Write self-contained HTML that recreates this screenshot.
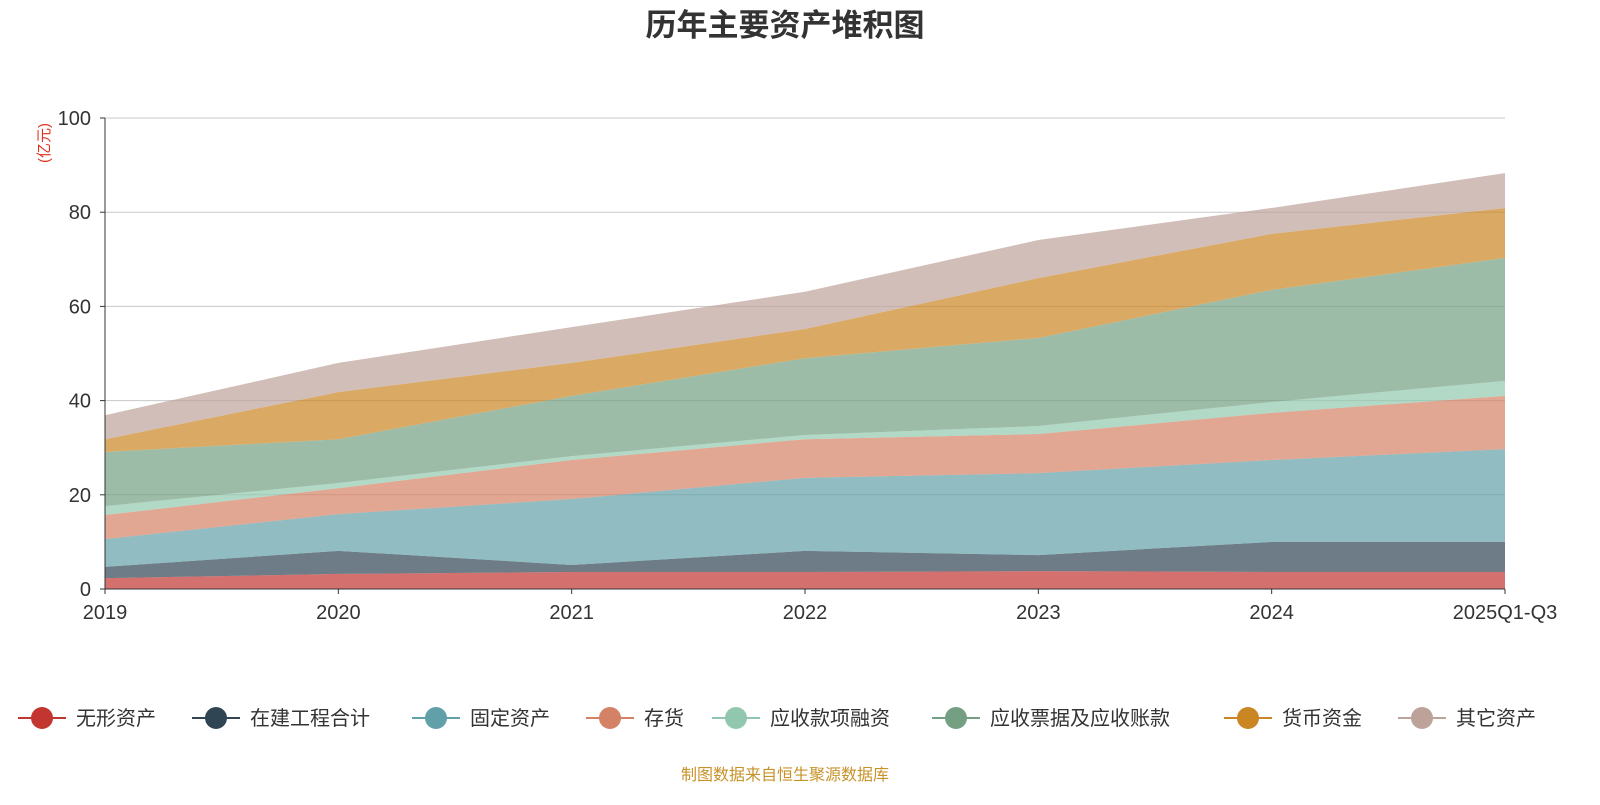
<!DOCTYPE html>
<html><head><meta charset="utf-8">
<style>
body{margin:0;background:#fff;width:1600px;height:800px;overflow:hidden;font-family:"Liberation Sans","Noto Sans CJK SC",sans-serif;}
svg text{font-family:"Liberation Sans","Noto Sans CJK SC",sans-serif;}
</style></head>
<body>
<svg id="chart" width="1600" height="800">
<text x="785" y="36" text-anchor="middle" font-size="31" font-weight="bold" fill="#333">历年主要资产堆积图</text>
<text transform="translate(49,143) rotate(-90)" text-anchor="middle" font-size="15" fill="#e0301e">(亿元)</text>
<g id="grid"></g><g id="areas"></g><g id="axes"></g><g id="legend"></g>
<text x="785" y="780" text-anchor="middle" font-size="16" fill="#c8922a">制图数据来自恒生聚源数据库</text>
</svg>
<script>
const categories=["2019","2020","2021","2022","2023","2024","2025Q1-Q3"];
const seriesNames=["无形资产","在建工程合计","固定资产","存货","应收款项融资","应收票据及应收账款","货币资金","其它资产"];
const intangible=[2.3,3.2,3.6,3.6,3.8,3.6,3.6];
const construction=[2.4,4.9,1.5,4.5,3.4,6.4,6.4];
const fixedAssets=[5.9,7.8,14.0,15.5,17.4,17.4,19.7];
const inventory=[5.1,5.5,8.3,8.2,8.3,10.0,11.3];
const receivableFinancing=[1.9,1.1,0.8,0.9,1.7,2.3,3.2];
const receivables=[11.5,9.3,12.8,16.3,18.7,23.8,26.1];
const cash=[2.7,10.0,7.0,6.2,12.7,11.9,10.6];
const otherAssets=[5.1,6.2,7.6,7.9,8.1,5.5,7.4];
const yTicks=[0,20,40,60,80,100];
const series=[intangible,construction,fixedAssets,inventory,receivableFinancing,receivables,cash,otherAssets];
const colors=["#c23531","#2f4554","#61a0a8","#d48265","#91c7ae","#749f83","#ca8622","#bda29a"];
const NS="http://www.w3.org/2000/svg";
const x0=105,x1=1505,yb=589,yt=118;
const xs=i=>x0+i*(x1-x0)/(categories.length-1);
const ys=v=>yb-v*(yb-yt)/100;
function mk(tag,attrs,parent){const e=document.createElementNS(NS,tag);for(const k in attrs)e.setAttribute(k,attrs[k]);parent.appendChild(e);return e;}
const grid=document.getElementById('grid'),areas=document.getElementById('areas'),axes=document.getElementById('axes'),legend=document.getElementById('legend');
yTicks.forEach(t=>{
 if(t>0){const l=mk('line',{x1:x0,x2:x1,y1:ys(t),y2:ys(t),stroke:'#c8c8c8','stroke-width':1},grid);
 
 }
 const tx=mk('text',{x:x0-14,y:ys(t)+7,'text-anchor':'end','font-size':20,fill:'#333'},axes);tx.textContent=t;
 
 
 mk('line',{x1:x0-5,x2:x0,y1:ys(t),y2:ys(t),stroke:'#333'},axes);
});
let base=categories.map(()=>0);
series.forEach((s,k)=>{
 const top=base.map((b,i)=>b+s[i]);
 let d='M'+categories.map((c,i)=>xs(i)+','+ys(top[i])).join(' L');
 for(let i=categories.length-1;i>=0;i--)d+=' L'+xs(i)+','+ys(base[i]);
 const p=mk('path',{d:d+'Z',fill:colors[k],'fill-opacity':0.7},areas);
 
 
 base=top;
});
mk('line',{x1:x0,x2:x0,y1:yt,y2:yb,stroke:'#333'},axes);
mk('line',{x1:x0,x2:x1,y1:yb,y2:yb,stroke:'#333'},axes);
categories.forEach((c,i)=>{
 mk('line',{x1:xs(i),x2:xs(i),y1:yb,y2:yb+5,stroke:'#333'},axes);
 const t=mk('text',{x:xs(i),y:yb+30,'text-anchor':'middle','font-size':20,fill:'#333'},axes);t.textContent=c;
 
 
});
const lx=[18,192,412,586,712,932,1224,1398];
seriesNames.forEach((n,k)=>{
 const g=mk('g',{},legend);
 
 
 mk('line',{x1:lx[k],x2:lx[k]+48,y1:718,y2:718,stroke:colors[k],'stroke-width':2},g);
 mk('circle',{cx:lx[k]+24,cy:718,r:11,fill:colors[k]},g);
 const t=mk('text',{x:lx[k]+58,y:725,'font-size':20,fill:'#333'},g);t.textContent=n;
});
</script>
</body></html>
